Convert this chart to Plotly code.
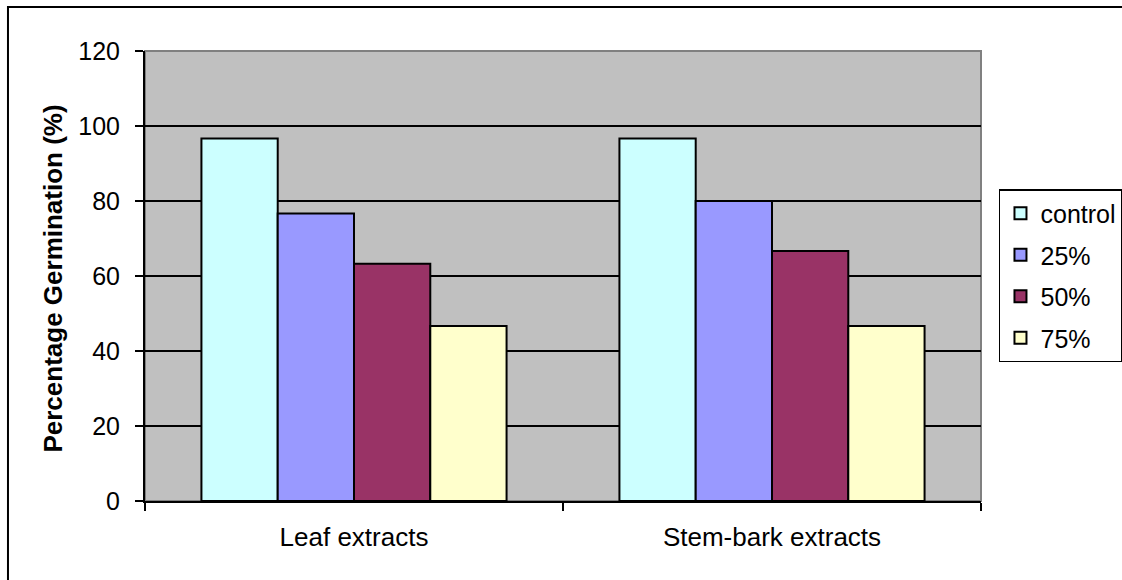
import plotly.graph_objects as go

categories = ["Leaf extracts", "Stem-bark extracts"]
series_names = ["control", "25%", "50%", "75%"]
control = [96.7, 96.7]
pct25 = [76.7, 80.0]
pct50 = [63.3, 66.7]
pct75 = [46.7, 46.7]
colors = ["#CCFFFF", "#9999FF", "#993366", "#FFFFCC"]
y_ticks = [0, 20, 40, 60, 80, 100, 120]

FONT = "Liberation Sans, Arial, sans-serif"

fig = go.Figure()
for name, vals, col in zip(series_names, [control, pct25, pct50, pct75], colors):
    fig.add_trace(go.Bar(
        name=name, x=categories, y=vals, legendgroup=name,
        marker=dict(color=col, line=dict(color="black", width=2)),
    ))

fig.update_layout(
    width=1122, height=580,
    margin=dict(l=145, r=141, t=51, b=79, autoexpand=False),
    paper_bgcolor="white",
    plot_bgcolor="#C0C0C0",
    barmode="group",
    bargap=0.27,
    bargroupgap=0,
    font=dict(family=FONT, size=26, color="black"),
    showlegend=True,
    legend=dict(
        x=1.0215, y=0.6933, xanchor="left", yanchor="top",
        bordercolor="black", borderwidth=1.5, bgcolor="white",
        font=dict(family=FONT, size=25, color="black"),
        tracegroupgap=6, traceorder="grouped", itemwidth=30,
    ),
    xaxis=dict(
        showline=True, linecolor="black", linewidth=2,
        ticks="outside", tickson="boundaries", ticklen=8, tickcolor="black", tickwidth=2,
        showgrid=False, ticklabelstandoff=12,
        tickfont=dict(family=FONT, size=26, color="black"),
    ),
    yaxis=dict(
        range=[0, 120], tickvals=y_ticks,
        showline=True, linecolor="black", linewidth=2,
        ticks="outside", ticklen=8, tickcolor="black", tickwidth=2,
        showgrid=True, gridcolor="black", gridwidth=1.5, zeroline=False,
        ticklabelstandoff=10,
        tickfont=dict(family=FONT, size=25, color="black"),
    ),
    shapes=[
        dict(type="rect", xref="paper", yref="paper", x0=0, y0=0, x1=1, y1=1,
             line=dict(color="#808080", width=2), layer="below"),
        dict(type="rect", xref="paper", yref="paper", x0=-0.1639, y0=-0.25, x1=1.25, y1=1.0978,
             line=dict(color="black", width=2), layer="above"),
    ],
    annotations=[
        dict(text="<b>Percentage Germination (%)</b>", xref="paper", yref="paper",
             x=-0.1112, y=0.4944, xanchor="center", yanchor="middle",
             textangle=-90, showarrow=False,
             font=dict(family=FONT, size=26, color="black")),
    ],
)

fig.write_html(
    "out.html",
    config={"displayModeBar": False},
    post_script="document.body.style.margin='0';document.body.style.overflow='hidden';",
)
